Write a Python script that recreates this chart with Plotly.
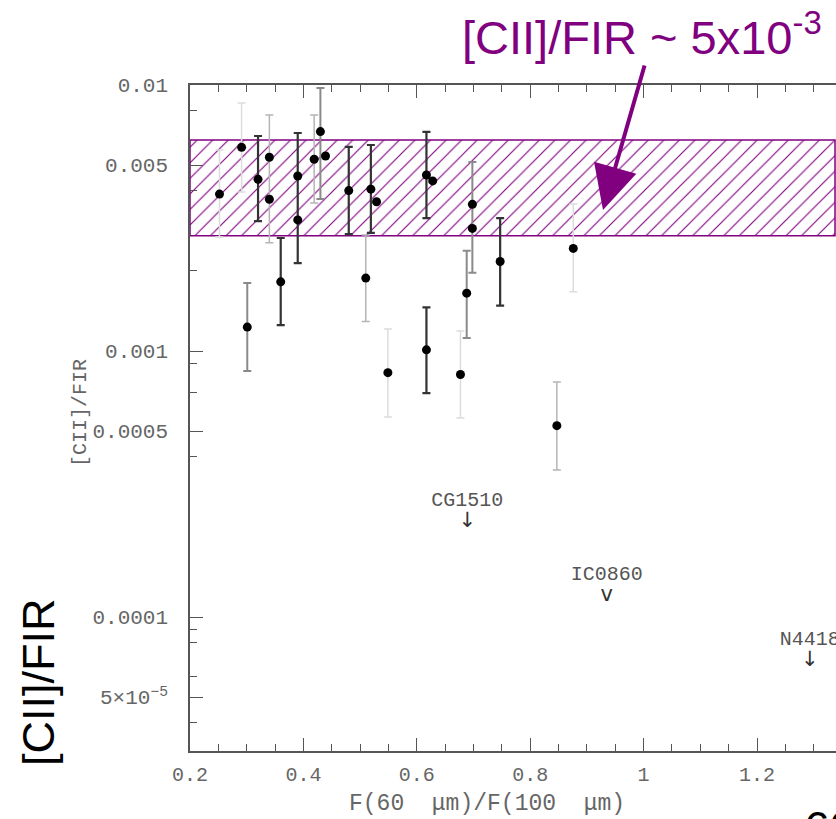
import plotly.graph_objects as go

# ---------------- data ----------------
# points with dark error bars
dark_x = [0.320, 0.360, 0.390, 0.480, 0.519, 0.617, 0.747, 0.617]
dark_y = [0.00442, 0.00182, 0.00455, 0.00401, 0.00406, 0.00459, 0.00217, 0.00101]
dark_hi = [0.00643, 0.00266, 0.00660, 0.00585, 0.00595, 0.00666, 0.00316, 0.00146]
dark_lo = [0.00308, 0.00125, 0.00214, 0.00275, 0.00278, 0.00316, 0.00148, 0.000695]

# points with medium grey error bars
mid_x = [0.301, 0.430, 0.698, 0.688]
mid_y = [0.00123, 0.00668, 0.00356, 0.00165]
mid_hi = [0.00180, 0.00974, 0.00513, 0.00238]
mid_lo = [0.000841, 0.00373, 0.00197, 0.00112]

# points with light grey error bars
light_x = [0.340, 0.419, 0.510, 0.847]
light_y = [0.00535, 0.00526, 0.00188, 0.000524]
light_hi = [0.00771, 0.00771, 0.00273, 0.000765]
light_lo = [0.00255, 0.00360, 0.00129, 0.000357]

# points with very faint error bars
faint_x = [0.252, 0.291, 0.549, 0.677, 0.876]
faint_y = [0.00389, 0.00583, 0.000829, 0.000816, 0.00243]
faint_hi = [0.00570, 0.00856, 0.00121, 0.00119, 0.00357]
faint_lo = [0.00268, 0.00396, 0.000565, 0.000560, 0.00167]

# points without visible error bars
plain_x = [0.340, 0.390, 0.439, 0.529, 0.628, 0.698]
plain_y = [0.00372, 0.00311, 0.00541, 0.00364, 0.00436, 0.00289]

# upper limits
lim_names = ["CG1510", "IC0860", "N4418"]
lim_x = [0.689, 0.935, 1.293]
lim_y = [0.000250, 0.000132, 0.0000752]
lim_sym = ["\u2193", "v", "\u2193"]

# hatched band
band_x = [0.2, 1.3376]
band_y = [0.00271, 0.00621]

# ticks
x_ticks = [0.2, 0.4, 0.6, 0.8, 1.0, 1.2]
x_ticktext = ["0.2", "0.4", "0.6", "0.8", "1", "1.2"]
y_ticks = [0.01, 0.005, 0.001, 0.0005, 0.0001, 0.00005]
y_ticktext = ["0.01", "0.005", "0.001", "0.0005", "0.0001", "5\u00d710<sup>\u22125</sup>"]
y_minor = [0.008, 0.004, 0.002, 0.0009, 0.0007, 0.0004, 0.00009, 0.00008, 0.00006, 0.00004]

# ---------------- layout geometry ----------------
W, H = 836, 819
ML, MR, MT, MB = 190, 0, 85, 68
PW, PH = W - ML - MR, H - MT - MB
PX_PER_X = 567.0
PX_PER_DEC = 266.0
x_range = [0.2, 0.2 + PW / PX_PER_X]
y_range = [-2 - PH / PX_PER_DEC, -2]


def px_x(px):
    return (px - ML) / PW


def px_y(py):
    return (MT + PH - py) / PH


PURPLE = "#800080"
MONO = "Liberation Mono"

fig = go.Figure()

# hatched band
fig.add_trace(go.Scatter(
    x=[band_x[0], band_x[1], band_x[1], band_x[0], band_x[0]],
    y=[band_y[0], band_y[0], band_y[1], band_y[1], band_y[0]],
    mode="lines", fill="toself",
    fillcolor="rgba(255,255,255,0)",
    fillpattern=dict(shape="/", fgcolor=PURPLE, bgcolor="rgba(255,255,255,0)",
                     size=11, solidity=0.1, fgopacity=1),
    line=dict(color=PURPLE, width=1.5),
    hoverinfo="skip", showlegend=False,
))


def add_group(xs, ys, his, los, color, width):
    fig.add_trace(go.Scatter(
        x=xs, y=ys, mode="markers",
        marker=dict(color="black", size=9),
        error_y=dict(type="data", symmetric=False,
                     array=[h - v for h, v in zip(his, ys)],
                     arrayminus=[v - l for v, l in zip(ys, los)],
                     color=color, thickness=width, width=4),
        showlegend=False,
    ))


add_group(faint_x, faint_y, faint_hi, faint_lo, "#dcdcdc", 1.5)
add_group(light_x, light_y, light_hi, light_lo, "#b5b5b5", 1.5)
add_group(mid_x, mid_y, mid_hi, mid_lo, "#8a8a8a", 2)
add_group(dark_x, dark_y, dark_hi, dark_lo, "#333333", 2.2)

fig.add_trace(go.Scatter(
    x=plain_x, y=plain_y, mode="markers",
    marker=dict(color="black", size=9), showlegend=False,
))

# upper limits
fig.add_trace(go.Scatter(
    x=lim_x, y=lim_y, mode="text", text=lim_names, textposition="top center",
    textfont=dict(family=MONO, size=20, color="#555555"), showlegend=False,
))
fig.add_trace(go.Scatter(
    x=lim_x, y=lim_y, mode="text", text=lim_sym, textposition="bottom center",
    textfont=dict(family="DejaVu Sans", size=21, color="#333333"), showlegend=False,
))

axis_common = dict(
    showline=True, linecolor="#555555", linewidth=1.5,
    ticks="inside", tickcolor="#555555", tickwidth=1.2,
    showgrid=False, zeroline=False,
)

fig.update_xaxes(
    range=x_range, tickmode="array", tickvals=x_ticks, ticktext=x_ticktext,
    ticklen=13, mirror="ticks", ticklabelstandoff=4,
    tickfont=dict(family=MONO, size=20, color="#666666"),
    minor=dict(tickmode="linear", tick0=0.2, dtick=0.05, ticklen=7,
               ticks="inside", tickcolor="#555555", tickwidth=1, showgrid=False),
    **axis_common,
)
fig.update_yaxes(
    type="log", range=y_range, tickmode="array", tickvals=y_ticks,
    ticktext=y_ticktext, ticklen=13, ticklabelstandoff=16,
    tickfont=dict(family=MONO, size=21, color="#666666"),
    minor=dict(tickmode="array", tickvals=y_minor, ticklen=7, ticks="inside",
               tickcolor="#555555", tickwidth=1, showgrid=False),
    **axis_common,
)

annotations = [
    # purple title
    dict(text="[CII]/FIR ~ 5x10<sup>-3</sup>", x=px_x(460), y=px_y(34),
         xref="paper", yref="paper", xanchor="left", yanchor="middle",
         showarrow=False, font=dict(family="Liberation Sans", size=47, color=PURPLE)),
    # arrow
    dict(text="", x=px_x(603), y=px_y(210), xref="paper", yref="paper",
         ax=42, ay=-146, showarrow=True, arrowhead=2, arrowsize=2.2,
         arrowwidth=4, arrowcolor=PURPLE),
    # big black y label
    dict(text="[CII]/FIR", x=px_x(38), y=px_y(682), xref="paper", yref="paper",
         xanchor="center", yanchor="middle",
         textangle=-90, showarrow=False,
         font=dict(family="Liberation Sans", size=45, color="black")),
    # small grey y label
    dict(text="[CII]/FIR", x=px_x(80), y=px_y(413), xref="paper", yref="paper",
         xanchor="center", yanchor="middle",
         textangle=-90, showarrow=False,
         font=dict(family=MONO, size=20, color="#666666")),
    # x axis title
    dict(text="F(60  \u03bcm)/F(100  \u03bcm)", x=px_x(487), y=px_y(804),
         xref="paper", yref="paper", xanchor="center", yanchor="middle",
         showarrow=False,
         font=dict(family=MONO, size=23, color="#666666")),
    # cut-off big text at bottom right
    dict(text="60 \u03bcm", x=px_x(802), y=px_y(800), xref="paper", yref="paper",
         xanchor="left", yanchor="top", showarrow=False,
         font=dict(family="Liberation Sans", size=46, color="black")),
]

fig.update_layout(
    width=W, height=H, autosize=False,
    margin=dict(l=ML, r=MR, t=MT, b=MB, pad=0),
    paper_bgcolor="white", plot_bgcolor="white",
    showlegend=False, annotations=annotations,
)

fig.write_html("out.html")
